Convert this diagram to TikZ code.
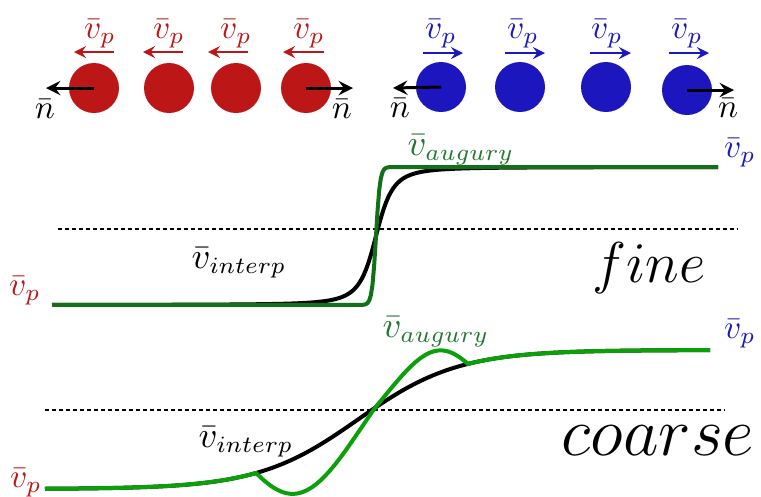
\documentclass[tikz,border=0pt]{standalone}
\usetikzlibrary{arrows}
\definecolor{ballred}{RGB}{189,22,22}
\definecolor{ballblue}{RGB}{28,22,190}
\definecolor{finegreen}{RGB}{18,112,24}
\definecolor{coarsegreen}{RGB}{10,160,10}
\definecolor{labelgreen}{RGB}{34,120,50}
\tikzstyle{redball} = [
    circle,
    fill=ballred,
    minimum size=15pt,
    inner sep=0pt
]
\tikzstyle{blueball} = [
    circle,
    fill=ballblue,
    minimum size=15pt,
    inner sep=0pt
]
\tikzstyle{velarrow} = [line width=0.6pt,->,>=stealth]
\tikzstyle{normarrow} = [line width=0.9pt,->,>=stealth]
\tikzstyle{curve} = [line width=1.2pt]
\tikzstyle{midline} = [line width=0.4pt, dash pattern=on 1.3pt off 0.8pt]
\tikzstyle{vlabel} = [anchor=base, inner sep=0pt]
\tikzstyle{sublabel} = [anchor=base, inner sep=0pt, font=\fontsize{10.5}{12}\selectfont]

\begin{document}
\begin{tikzpicture}[x=0.3pt, y=-0.3pt,
    declare function={
        finesmooth(\x)=236-69*((\x-376)/18)/sqrt(1+((\x-376)/18)*((\x-376)/18));
        finestep(\x)=236-69*tanh(max(-4.5,min(4.5,(\x-376)/4)));
        coarsesmooth(\x)=419.5-69.5*tanh((\x-358)/100);
    }]

\useasboundingbox (0,0) rectangle (761,496);

\foreach \i/\cx/\ax/\bx/\lx in {1/94/114/74/100, 2/169/183/143/169, 3/236/248/208/236, 4/306/324/283/309} {
    \node (red\i) [redball] at (\cx,88) {};
    \coordinate (redtail\i) at (\ax,52);
    \coordinate (redtip\i) at (\bx,52);
    \draw [velarrow, ballred] (redtail\i) -- (redtip\i);
    \node (redv\i) [vlabel, text=ballred] at (\lx,38) {$\bar{v}_p$};
}

\foreach \i/\cx/\cy/\ax/\bx/\lx in {1/441/87/423/463/441, 2/520/87/505/545/523, 3/606/87/590/631/607, 4/687/90/669/709/687} {
    \node (blue\i) [blueball] at (\cx,\cy) {};
    \coordinate (bluetail\i) at (\ax,53);
    \coordinate (bluetip\i) at (\bx,53);
    \draw [velarrow, ballblue] (bluetail\i) -- (bluetip\i);
    \node (bluev\i) [vlabel, text=ballblue] at (\lx,38) {$\bar{v}_p$};
}

\coordinate (redleft) at (46,88);
\coordinate (redright) at (353,88);
\coordinate (blueleft) at (393,88);
\coordinate (blueright) at (734,90);
\draw [normarrow] (red1.center) -- (redleft);
\draw [normarrow] (red4.center) -- (redright);
\draw [normarrow] (blue1.center) -- (blueleft);
\draw [normarrow] (blue4.center) -- (blueright);
\node (nredl) [vlabel] at (45,118) {$\bar{n}$};
\node (nredr) [vlabel] at (342,118) {$\bar{n}$};
\node (nbluel) [vlabel] at (400,117) {$\bar{n}$};
\node (nbluer) [vlabel] at (728,117) {$\bar{n}$};

\coordinate (finedl) at (58,229);
\coordinate (finedr) at (738,229);
\draw [midline] (finedl) -- (finedr);
\draw [curve, black] plot[domain=52:718, samples=300] (\x,{finesmooth(\x)});
\draw [curve, finegreen] plot[domain=52:718, samples=400] (\x,{finestep(\x)});

\node (finelow) [vlabel, text=ballred] at (25,295) {$\bar{v}_p$};
\node (finehigh) [vlabel, text=ballblue] at (740,157) {$\bar{v}_p$};
\node (fineaug) [sublabel, text=labelgreen] at (461,155) {$\bar{v}_{augury}$};
\node (fineinterp) [sublabel] at (239,268) {$\bar{v}_{interp}$};
\node (finename) [anchor=base, inner sep=0pt, font=\fontsize{17}{20}\selectfont] at (649,282) {$fine$};

\coordinate (coarsedl) at (45,410);
\coordinate (coarsedr) at (725,410);
\draw [midline] (coarsedl) -- (coarsedr);
\draw [curve, black] plot[domain=45:710, samples=300] (\x,{coarsesmooth(\x)});
\draw [curve, coarsegreen]
    plot[domain=45:256, samples=80] (\x,{coarsesmooth(\x)})
    -- plot[domain=256:375, samples=80] (\x,{coarsesmooth(\x)+38*sin(180*((\x-256)/119)*(1.25-0.25*(\x-256)/119))})
    -- plot[domain=375:468, samples=80] (\x,{coarsesmooth(\x)-24*sin(180*((\x-375)/93)*(0.645+0.355*(\x-375)/93))})
    -- plot[domain=468:710, samples=80] (\x,{coarsesmooth(\x)});

\node (coarselow) [vlabel, text=ballred] at (26,487) {$\bar{v}_p$};
\node (coarsehigh) [vlabel, text=ballblue] at (740,338) {$\bar{v}_p$};
\node (coarseaug) [sublabel, text=labelgreen] at (436,337) {$\bar{v}_{augury}$};
\node (coarseinterp) [sublabel] at (246,447) {$\bar{v}_{interp}$};
\node (coarsename) [anchor=base, inner sep=0pt, font=\fontsize{21.5}{25}\selectfont] at (658,455) {$coarse$};

\end{tikzpicture}
\end{document}
